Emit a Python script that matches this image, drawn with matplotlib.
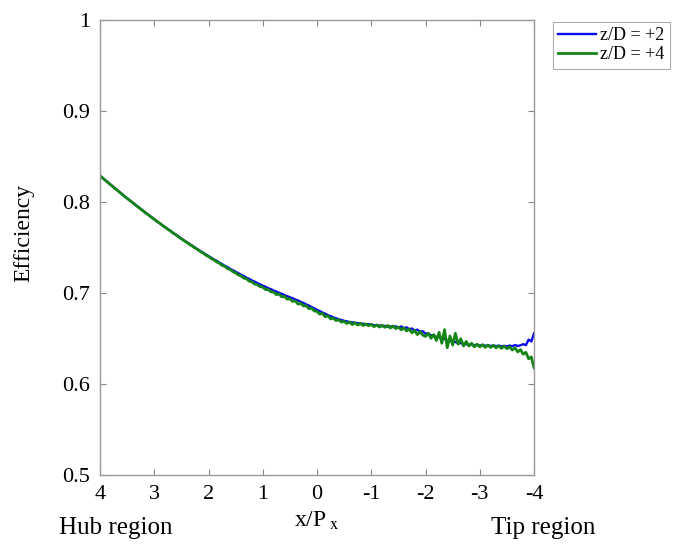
import matplotlib
matplotlib.use("Agg")
import matplotlib.pyplot as plt
import numpy as np

plt.rcParams['font.family'] = ['Liberation Serif', 'DejaVu Serif']
plt.rcParams['mathtext.fontset'] = 'stix'

# x/Px positions, from hub (4) to tip (-4), step 0.05
x = np.round(np.arange(4.0, -4.001, -0.05), 2)

# efficiency, z/D = +2
eff_p2 = [
    .829, .8265, .8239, .8214, .8189, .8164, .814, .8115, .8091, .8066,
    .8042, .8019, .7995, .7972, .7948, .7925, .7902, .7879, .7857, .7834,
    .7812, .779, .7768, .7747, .7725, .7704, .7683, .7662, .7641, .762,
    .760, .758, .756, .754, .752, .7501, .7482, .7463, .7444, .7425,
    .7407, .739, .7371, .7355, .7335, .7319, .7301, .7286, .7267, .7251,
    .7234, .7219, .7201, .7188, .717, .7157, .714, .7127, .7111, .7098,
    .7083, .7071, .7055, .7044, .7029, .7018, .7004, .6993, .6979, .6968,
    .6955, .6945, .693, .692, .6905, .6893, .6877, .6864, .6847, .6834,
    .6817, .6804, .6787, .6775, .6759, .6748, .6734, .6725, .6713, .6706,
    .6696, .6691, .6683, .668, .6674, .6672, .6664, .6665, .6658, .666,
    .6652, .665, .6645, .6646, .6638, .6641, .6632, .6636, .6628, .6636,
    .6622, .6635, .6615, .6625, .6605, .6612, .659, .660, .6575, .6582,
    .6555, .656, .6535, .654, .6515, .652, .6495, .650, .6478, .6482,
    .6462, .6465, .645, .6452, .644, .6442, .6432, .6436, .6428, .6432,
    .6425, .643, .6422, .6428, .642, .6426, .6418, .6424, .6416, .6422,
    .6415, .6425, .6418, .643, .642, .6428, .644, .643, .649, .647,
    .656,
]

# efficiency, z/D = +4
eff_p4 = [
    .829, .8264, .8239, .8213, .8189, .8163, .814, .8114, .8091, .8065,
    .8042, .8018, .7995, .797, .7948, .7923, .7902, .7877, .7857, .7832,
    .7812, .7788, .7768, .7745, .7725, .7702, .7683, .7659, .7641, .7617,
    .7598, .7576, .7559, .7536, .7518, .7496, .748, .7457, .7441, .7418,
    .7403, .738, .7366, .7343, .733, .7305, .7295, .727, .726, .7236,
    .7222, .720, .719, .7165, .7158, .7132, .7125, .710, .7095, .7072,
    .7066, .704, .704, .7015, .7012, .6985, .699, .696, .6964, .6935,
    .6938, .691, .6915, .688, .6888, .686, .6862, .683, .6835, .6805,
    .680, .677, .6778, .6742, .675, .6718, .6725, .670, .6708, .6682,
    .669, .6668, .6682, .6655, .6675, .665, .6668, .6645, .6662, .6642,
    .6658, .6632, .6652, .6628, .6648, .6625, .6645, .6618, .664, .6612,
    .6628, .6598, .662, .6585, .6605, .6565, .659, .6545, .6575, .654,
    .6525, .656, .6505, .6545, .648, .657, .645, .660, .640, .653,
    .643, .656, .644, .650, .642, .647, .642, .645, .641, .644,
    .641, .6435, .6405, .643, .6405, .6425, .640, .6422, .6395, .6418,
    .639, .641, .6375, .640, .6355, .638, .633, .635, .628, .630,
    .618,
]

labels = ["z/D = +2", "z/D = +4"]
xticks = [4, 3, 2, 1, 0, -1, -2, -3, -4]
yticks = [0.5, 0.6, 0.7, 0.8, 0.9, 1]

fig = plt.figure(figsize=(6.76, 5.45), dpi=100)
ax = fig.add_axes([0.148, 0.128, 0.642, 0.835])

ax.plot(x, eff_p2, color="#0a0aee", lw=1.7, label=labels[0])
ax.plot(x, eff_p4, color="#158515", lw=2.0, label=labels[1])

ax.set_xlim(4, -4)
ax.set_ylim(0.5, 1)
ax.set_xticks(xticks)
ax.set_xticklabels([str(t) for t in xticks])
ax.set_yticks(yticks)
ax.set_yticklabels(["0.5", "0.6", "0.7", "0.8", "0.9", "1"])
ax.tick_params(direction="in", length=4, width=0.8, color="#888888",
               labelsize=16, top=True, right=True, pad=7)
for s in ax.spines.values():
    s.set_color("#999999")
    s.set_linewidth(1.0)

fig.text(0.036, 0.572, "Efficiency", fontsize=17, rotation=90,
         ha="center", va="center")
fig.text(0.469, 0.045, r"x/P$_{\ \mathrm{x}}$", fontsize=17, ha="center", va="center")
fig.text(0.087, 0.031, "Hub region", fontsize=18, va="center")
fig.text(0.726, 0.031, "Tip region", fontsize=18, va="center")

leg = fig.legend(loc="upper left", bbox_to_anchor=(0.818, 0.96), fontsize=13,
                 fancybox=False, handlelength=2.1, borderpad=0.3,
                 labelspacing=0.12, handletextpad=0.2, borderaxespad=0)
leg.get_frame().set_edgecolor("#999999")
leg.get_frame().set_linewidth(0.8)

fig.savefig("out.png", dpi=100)
